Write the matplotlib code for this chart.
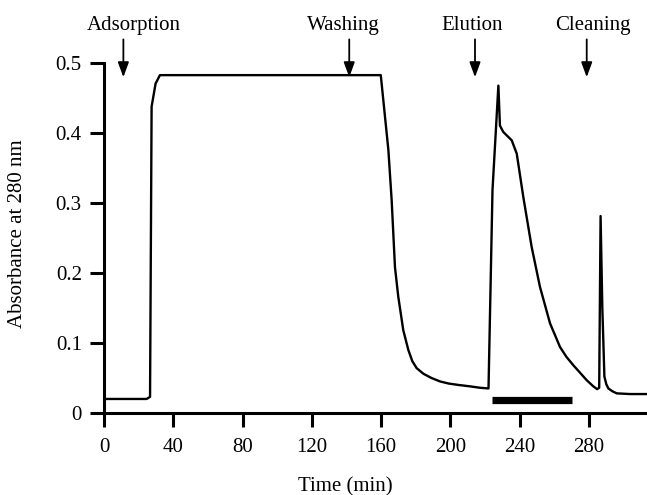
import matplotlib.pyplot as plt

# chromatogram trace
time_min = [0, 24.6, 26.6, 27.5, 29.8, 32.3, 159.8, 164.2, 166.1, 168.0, 169.9,
            172.8, 175.7, 178.0, 180.5, 184.4, 189.0, 194.0, 199.0, 204.6,
            211.3, 217.0, 222.0, 224.3, 227.7, 228.6, 230.5, 235.4, 238.3,
            242.1, 246.9, 251.7, 257.5, 263.3, 267.0, 271.0, 275.0, 278.6,
            282.5, 284.7, 285.9, 286.7, 287.7, 288.9, 290.0, 291.2, 293.5,
            296.0, 303.7, 314.0]
absorbance = [0.020, 0.020, 0.023, 0.437, 0.470, 0.482, 0.482, 0.375, 0.303,
              0.208, 0.166, 0.118, 0.090, 0.074, 0.064, 0.056, 0.050, 0.045,
              0.042, 0.040, 0.038, 0.036, 0.035, 0.318, 0.467, 0.410, 0.401,
              0.389, 0.370, 0.308, 0.237, 0.180, 0.128, 0.094, 0.080, 0.068,
              0.057, 0.047, 0.038, 0.034, 0.036, 0.281, 0.151, 0.052, 0.041,
              0.035, 0.031, 0.028, 0.027, 0.027]

# step labels: text, arrow position, text centre
steps = ['Adsorption', 'Washing', 'Elution', 'Cleaning']
arrow_t = [11.2, 141.6, 214.2, 278.7]
label_t = [17.5, 138.3, 212.7, 282.2]

# collected fraction bar
fraction_start, fraction_end = 223.8, 270.3

x_ticks = [0, 40, 80, 120, 160, 200, 240, 280]
y_ticks = [0, 0.1, 0.2, 0.3, 0.4, 0.5]
y_tick_labels = ['0', '0.1', '0.2', '0.3', '0.4', '0.5']

plt.rcParams['font.family'] = ['Liberation Serif', 'DejaVu Serif']
plt.rcParams['font.size'] = 15

fig = plt.figure(figsize=(6.47, 4.95), dpi=100)
ax = fig.add_axes([0.1607, 0.1657, 0.8393, 0.708])

ax.plot(time_min, absorbance, color='black', linewidth=1.7,
        solid_joinstyle='round')
ax.hlines(0.0185, fraction_start, fraction_end, color='black', linewidth=5.2)

for name, at, lt in zip(steps, arrow_t, label_t):
    ax.annotate('', xy=(at, 0.479), xytext=(at, 0.533),
                arrowprops=dict(arrowstyle='-|>,head_length=0.6,head_width=0.22',
                                color='black', lw=1.3, shrinkA=0, shrinkB=0),
                annotation_clip=False)
    ax.text(lt, 0.5466, name, ha='center', va='baseline', clip_on=False)

ax.set_xlim(0, 313.5)
ax.set_ylim(0, 0.5)
ax.set_xticks(x_ticks)
ax.set_yticks(y_ticks)
ax.set_yticklabels(y_tick_labels)

for side in ['top', 'right']:
    ax.spines[side].set_visible(False)
for side in ['left', 'bottom']:
    ax.spines[side].set_linewidth(2.2)

ax.tick_params(axis='both', direction='out', length=10, width=2.2)
ax.tick_params(axis='x', pad=8)
ax.tick_params(axis='y', pad=6)

ax.set_xlabel('Time (min)')
ax.set_ylabel('Absorbance at 280 nm')
ax.xaxis.set_label_coords(0.444, -0.183)
ax.yaxis.set_label_coords(-0.142, 0.513)

fig.savefig('out.png', dpi=100)
